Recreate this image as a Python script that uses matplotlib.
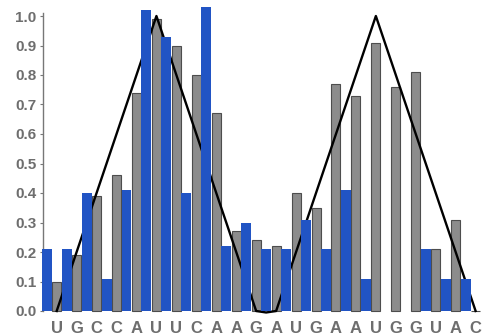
import numpy as np
import matplotlib
matplotlib.use("Agg")
import matplotlib.pyplot as plt

# sequence and the two reactivity profiles (blue / gray)
bases = list("UGCCAUUCAAGAUGAAUGGUAC")
blue_vals = [0.21, 0.21, 0.40, 0.11, 0.41, 1.02, 0.93, 0.40, 1.03, 0.22, 0.30,
             0.21, 0.21, 0.31, 0.21, 0.41, 0.11, 0.0, 0.0, 0.21, 0.11, 0.11]
gray_vals = [0.10, 0.19, 0.39, 0.46, 0.74, 0.99, 0.90, 0.80, 0.67, 0.27, 0.24,
             0.22, 0.40, 0.35, 0.77, 0.73, 0.91, 0.76, 0.81, 0.21, 0.31, 0.0]

# triangular reference profile
tri_x = [0.25, 5.25, 10.25, 10.75, 11.25, 16.25, 21.25]
tri_y = [0, 1, 0, -0.005, 0, 1, 0]

fig = plt.figure(figsize=(4.83, 3.36), dpi=100)
ax = fig.add_axes([43 / 483, 25 / 336, 437 / 483, 1.03 * 295 / 336])

x = np.arange(len(bases))
ax.bar(x + 0.25, gray_vals, width=0.45, color="#8c8c8c", edgecolor="#4d4d4d",
       linewidth=0.8, zorder=2, clip_on=False)
ax.plot(tri_x, tri_y, color="black", lw=1.7, zorder=3,
        solid_joinstyle="round", clip_on=False)
ax.bar(x - 0.25, blue_vals, width=0.5, color="#2154c4", linewidth=0,
       zorder=4, clip_on=False)

ax.set_xlim(-0.436, 21.47)
ax.set_ylim(0, 1.03)

for s in ["top", "right", "bottom"]:
    ax.spines[s].set_visible(False)
ax.spines["left"].set_color("#777777")
ax.spines["left"].set_linewidth(1.0)
ax.spines["left"].set_bounds(0, 1.01)

ax.set_yticks(np.arange(0, 1.01, 0.1))
ax.set_yticklabels([f"{v:.1f}" for v in np.arange(0, 1.01, 0.1)],
                   fontsize=11, fontweight="bold", color="#6e6e6e",
                   family="Liberation Sans")
ax.tick_params(axis="y", length=2.5, width=0.8, color="#777777", pad=2)

ax.set_xticks(x + 0.25)
ax.set_xticklabels(bases, fontsize=12, fontweight="bold", color="#6e6e6e",
                   family="Liberation Sans")
ax.tick_params(axis="x", length=0, pad=7)

fig.savefig("out.png", dpi=100)
